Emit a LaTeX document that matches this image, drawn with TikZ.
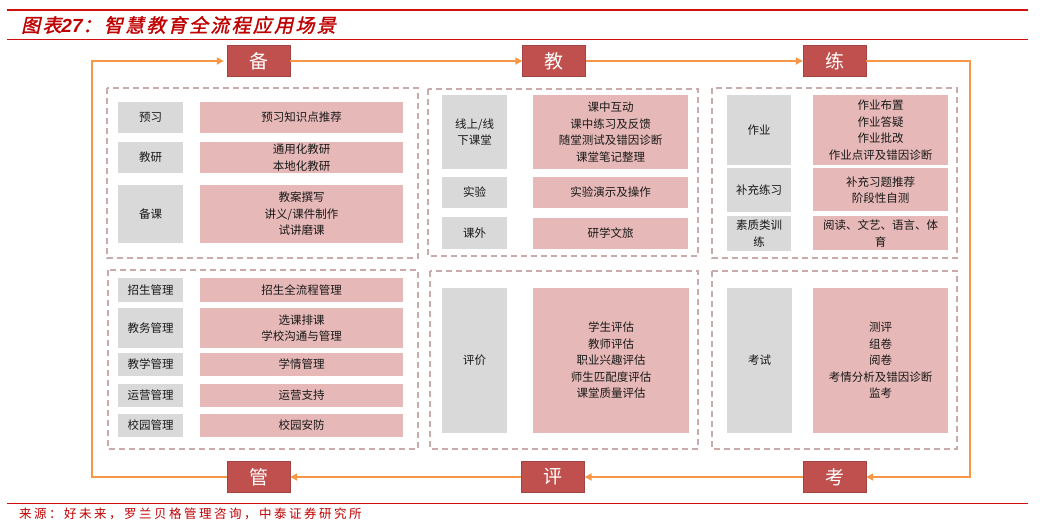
\documentclass[tikz,border=0pt]{standalone}
\usepackage{fontspec}
\usepackage{tikz}
\usetikzlibrary{arrows.meta}
\newfontfamily\cjk{Noto Sans CJK SC}
\newfontfamily\cjktitle{Noto Sans CJK SC}[FakeSlant=0.22,FakeBold=1.6,LetterSpace=12]
\newfontfamily\cjksrc{Noto Sans CJK SC}[LetterSpace=20]
\newfontfamily\latinsans{Liberation Sans}
\definecolor{phasered}{HTML}{C0504D}
\definecolor{looporange}{HTML}{F79646}
\definecolor{titlered}{HTML}{C00000}
\definecolor{rulered}{HTML}{D01010}
\definecolor{lblgray}{HTML}{D9D9D9}
\definecolor{cntpink}{HTML}{E6B8B7}
\definecolor{panelline}{HTML}{C9ABAB}
\tikzset{
  phase/.style={fill=phasered, draw=phasered!85!black, line width=0.4pt, text=white,
    minimum width=63, minimum height=31, inner sep=0pt, font=\cjk\fontsize{19}{22}\selectfont},
  flow/.style={looporange, line width=1.8pt, -{Triangle[length=7pt, width=7pt]}},
  panel/.style={panelline, line width=1.2pt, dash pattern=on 6pt off 4pt},
  lbl/.style={fill=lblgray, inner sep=0pt, align=center, text=black!90,
    font=\cjk\fontsize{11.5}{16.5}\selectfont},
  cnt/.style={fill=cntpink, inner sep=0pt, align=center, text=black!90,
    font=\cjk\fontsize{11.5}{16.5}\selectfont},
}
\begin{document}
\begin{tikzpicture}[x=1pt,y=-1pt]
\useasboundingbox (0,0) rectangle (1042,529);
% header and footer rules
\draw[rulered, line width=2.8pt] (7,10) -- (1028,10);
\draw[rulered, line width=0.9pt] (7,39) -- (1028,39);
\draw[rulered, line width=0.9pt] (7,503) -- (1028,503);
\node[anchor=west, inner sep=0pt, text=titlered, font=\cjktitle\fontsize{19}{21}\selectfont] (title) at (21,25)
  {图表{\latinsans\bfseries\itshape 27}：智慧教育全流程应用场景};
\node[anchor=west, inner sep=0pt, text=titlered, font=\cjksrc\fontsize{12.5}{14}\selectfont] (source) at (19,514)
  {来源：好未来，罗兰贝格管理咨询，中泰证券研究所};
% phases
\node[phase] (bei)  at (258.5,61)  {备};
\node[phase] (jiao) at (554,61)    {教};
\node[phase] (lian) at (834.5,61)  {练};
\node[phase] (guan) at (258.5,477) {管};
\node[phase] (ping) at (553,477)   {评};
\node[phase] (kao)  at (834.5,477) {考};
\coordinate (tl) at (92,61);
\coordinate (bl) at (92,477);
\coordinate (tr) at (970,61);
\coordinate (br) at (970,477);
\draw[flow] (guan.west) -- (bl) -- (tl) -- ([xshift=-3pt]bei.west);
\draw[flow] (bei) -- (jiao);
\draw[flow] (jiao) -- (lian);
\draw[flow] (lian.east) -- (tr) -- (br) -- (kao.east);
\draw[flow] (kao) -- (ping);
\draw[flow] (ping) -- (guan);
% panels
\draw[panel] (107,88) rectangle (418,258);
\draw[panel] (428,89) rectangle (698,256);
\draw[panel] (712,88) rectangle (957,258);
\draw[panel] (108,270) rectangle (418,449);
\draw[panel] (430,271) rectangle (698,449);
\draw[panel] (712,271) rectangle (957,449);
% 备
\node[lbl, minimum width=65, minimum height=31] (yuxi) at (150.5,117.5) {预习};
\node[cnt, minimum width=203, minimum height=31] (yuxi-c) at (301.5,117.5) {预习知识点推荐};
\node[lbl, minimum width=65, minimum height=31] (jiaoyan) at (150.5,157.5) {教研};
\node[cnt, minimum width=203, minimum height=31] (jiaoyan-c) at (301.5,157.5) {通用化教研\\本地化教研};
\node[lbl, minimum width=65, minimum height=58] (beike) at (150.5,214) {备课};
\node[cnt, minimum width=203, minimum height=58] (beike-c) at (301.5,214) {教案撰写\\讲义/课件制作\\试讲磨课};
% 教
\node[lbl, minimum width=65, minimum height=74] (ketang) at (474.5,132) {线上/线\\下课堂};
\node[cnt, minimum width=155, minimum height=74] (ketang-c) at (610.5,132) {课中互动\\课中练习及反馈\\随堂测试及错因诊断\\课堂笔记整理};
\node[lbl, minimum width=65, minimum height=31] (shiyan) at (474.5,192.5) {实验};
\node[cnt, minimum width=155, minimum height=31] (shiyan-c) at (610.5,192.5) {实验演示及操作};
\node[lbl, minimum width=65, minimum height=32] (kewai) at (474.5,233.5) {课外};
\node[cnt, minimum width=155, minimum height=31] (kewai-c) at (610.5,233.5) {研学文旅};
% 练
\node[lbl, minimum width=64, minimum height=70] (zuoye) at (759,130) {作业};
\node[cnt, minimum width=135, minimum height=70] (zuoye-c) at (880.5,130) {作业布置\\作业答疑\\作业批改\\作业点评及错因诊断};
\node[lbl, minimum width=64, minimum height=44] (buchong) at (759,190) {补充练习};
\node[cnt, minimum width=135, minimum height=43] (buchong-c) at (880.5,190) {补充习题推荐\\阶段性自测};
\node[lbl, minimum width=64, minimum height=35] (suzhi) at (759,233.5) {素质类训\\练};
\node[cnt, minimum width=135, minimum height=34] (suzhi-c) at (880.5,233.5) {阅读、文艺、语言、体\\育};
% 管
\node[lbl, minimum width=65, minimum height=24] (zhaosheng) at (150.5,290) {招生管理};
\node[cnt, minimum width=203, minimum height=24] (zhaosheng-c) at (301.5,290) {招生全流程管理};
\node[lbl, minimum width=65, minimum height=40] (jiaowu) at (150.5,328) {教务管理};
\node[cnt, minimum width=203, minimum height=40] (jiaowu-c) at (301.5,328) {选课排课\\学校沟通与管理};
\node[lbl, minimum width=65, minimum height=23] (jiaoxue) at (150.5,364.5) {教学管理};
\node[cnt, minimum width=203, minimum height=23] (jiaoxue-c) at (301.5,364.5) {学情管理};
\node[lbl, minimum width=65, minimum height=23] (yunying) at (150.5,395.5) {运营管理};
\node[cnt, minimum width=203, minimum height=23] (yunying-c) at (301.5,395.5) {运营支持};
\node[lbl, minimum width=65, minimum height=23] (xiaoyuan) at (150.5,425.5) {校园管理};
\node[cnt, minimum width=203, minimum height=23] (xiaoyuan-c) at (301.5,425.5) {校园安防};
% 评
\node[lbl, minimum width=65, minimum height=145] (pingjia) at (474.5,360.5) {评价};
\node[cnt, minimum width=156, minimum height=145] (pingjia-c) at (611,360.5) {学生评估\\教师评估\\职业兴趣评估\\师生匹配度评估\\课堂质量评估};
% 考
\node[lbl, minimum width=65, minimum height=145] (kaoshi) at (759.5,360.5) {考试};
\node[cnt, minimum width=135, minimum height=145] (kaoshi-c) at (880.5,360.5) {测评\\组卷\\阅卷\\考情分析及错因诊断\\监考};
\end{tikzpicture}
\end{document}
